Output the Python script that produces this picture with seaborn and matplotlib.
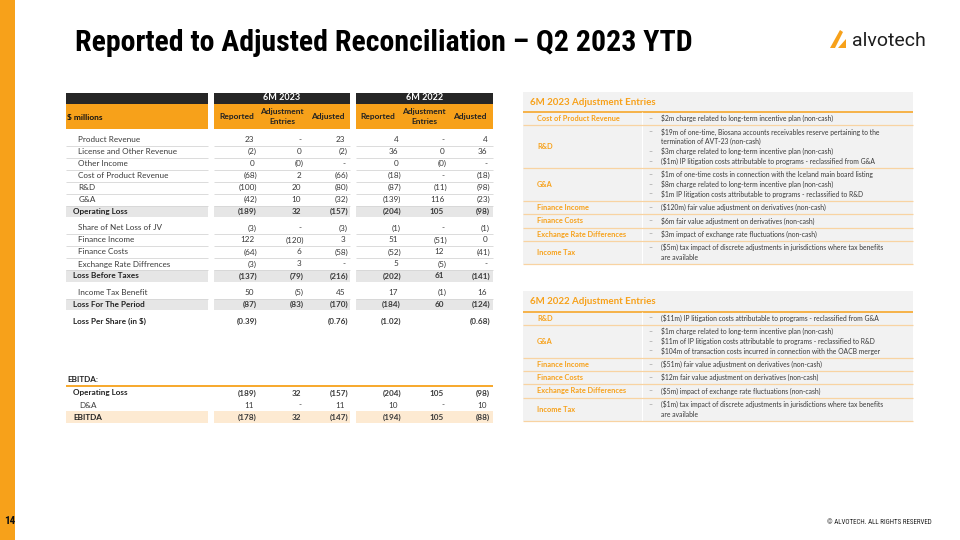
import matplotlib
matplotlib.use("Agg")
import matplotlib.pyplot as plt
from matplotlib import font_manager
import seaborn as sns

# ---- left table data ($ millions) ----
row_labels = ["Product Revenue", "License and Other Revenue", "Other Income",
              "Cost of Product Revenue", "R&D", "G&A", "Operating Loss",
              "Share of Net Loss of JV", "Finance Income", "Finance Costs",
              "Exchange Rate Diffrences", "Loss Before Taxes",
              "Income Tax Benefit", "Loss For The Period", "Loss Per Share (in $)"]
reported_23 = ["23", "(2)", "0", "(68)", "(100)", "(42)", "(189)",
               "(3)", "122", "(64)", "(3)", "(137)", "50", "(87)", "(0.39)"]
adjust_23 = ["-", "0", "(0)", "2", "20", "10", "32",
             "-", "(120)", "6", "3", "(79)", "(5)", "(83)", ""]
adjusted_23 = ["23", "(2)", "-", "(66)", "(80)", "(32)", "(157)",
               "(3)", "3", "(58)", "-", "(216)", "45", "(170)", "(0.76)"]
reported_22 = ["4", "36", "0", "(18)", "(87)", "(139)", "(204)",
               "(1)", "51", "(52)", "5", "(202)", "17", "(184)", "(1.02)"]
adjust_22 = ["-", "0", "(0)", "-", "(11)", "116", "105",
             "-", "(51)", "12", "(5)", "61", "(1)", "60", ""]
adjusted_22 = ["4", "36", "-", "(18)", "(98)", "(23)", "(98)",
               "(1)", "0", "(41)", "-", "(141)", "16", "(124)", "(0.68)"]
total_rows = ["Operating Loss", "Loss Before Taxes", "Loss For The Period"]

ebitda_labels = ["Operating Loss", "D&A", "EBITDA"]
ebitda_cols = [["(189)", "11", "(178)"], ["32", "-", "32"], ["(157)", "11", "(147)"],
               ["(204)", "10", "(194)"], ["105", "-", "105"], ["(98)", "10", "(88)"]]

col_heads = ["Reported", "Adjustment\nEntries", "Adjusted"]
period_heads = ["6M 2023", "6M 2022"]

# ---- right panels ----
entries_23_title = "6M 2023 Adjustment Entries"
entries_23_items = ["Cost of Product Revenue", "R&D", "G&A", "Finance Income",
                    "Finance Costs", "Exchange Rate Differences", "Income Tax"]
entries_23_notes = [
    ["$2m charge related to long-term incentive plan (non-cash)"],
    ["$19m of one-time, Biosana accounts receivables reserve pertaining to the\ntermination of AVT-23 (non-cash)",
     "$3m charge related to long-term incentive plan (non-cash)",
     "($1m) IP litigation costs attributable to programs - reclassified from G&A"],
    ["$1m of one-time costs in connection with the Iceland main board listing",
     "$8m charge related to long-term incentive plan (non-cash)",
     "$1m IP litigation costs attributable to programs - reclassified to R&D"],
    ["($120m) fair value adjustment on derivatives (non-cash)"],
    ["$6m fair value adjustment on derivatives (non-cash)"],
    ["$3m impact of exchange rate fluctuations (non-cash)"],
    ["($5m) tax impact of discrete adjustments in jurisdictions where tax benefits\nare available"],
]
entries_22_title = "6M 2022 Adjustment Entries"
entries_22_items = ["R&D", "G&A", "Finance Income", "Finance Costs",
                    "Exchange Rate Differences", "Income Tax"]
entries_22_notes = [
    ["($11m) IP litigation costs attributable to programs - reclassified from G&A"],
    ["$1m charge related to long-term incentive plan (non-cash)",
     "$11m of IP litigation costs attributable to programs - reclassified to R&D",
     "$104m of transaction costs incurred in connection with the OACB merger"],
    ["($51m) fair value adjustment on derivatives (non-cash)"],
    ["$12m fair value adjustment on derivatives (non-cash)"],
    ["($5m) impact of exchange rate fluctuations (non-cash)"],
    ["($1m) tax impact of discrete adjustments in jurisdictions where tax benefits\nare available"],
]

ORANGE = "#F7A11A"
DARK = "#262626"
GREY_BAND = "#E6E6E6"
PEACH = "#FDEAD2"
PANEL = "#F2F2F2"
TXT = "#3A3A3A"

sns.set_theme(style="white")
plt.rcParams["font.family"] = ["Lato", "DejaVu Sans"]

# pick a narrow face for the title if one is installed
installed = {f.name for f in font_manager.fontManager.ttflist}
narrow = next((n for n in ["Liberation Sans Narrow", "DejaVu Sans Condensed",
                           "Roboto Condensed", "Arial Narrow"] if n in installed), None)
if narrow:
    title_font, title_size = [narrow, "DejaVu Sans"], 21.5
else:
    title_font, title_size = ["Liberation Sans", "DejaVu Sans"], 18.3

fig = plt.figure(figsize=(9.6, 5.4), dpi=100)
ax = fig.add_axes([0, 0, 1, 1])
ax.set_xlim(0, 960)
ax.set_ylim(540, 0)
ax.axis("off")


def txt(x, y, s, **kw):
    kw.setdefault("va", "center")
    kw.setdefault("color", TXT)
    ax.text(x, y, s, parse_math=False, **kw)


# slide frame
ax.barh(270, 15, left=0, height=540, color=ORANGE, lw=0)
txt(4, 521, "14", fontsize=8, fontweight="bold", color="#111111", family=title_font)
txt(932, 522, "© ALVOTECH. ALL RIGHTS RESERVED", fontsize=5, ha="right",
    color="#222222", family=title_font)
txt(75, 43, "Reported to Adjusted Reconciliation – Q2 2023 YTD", fontsize=title_size,
    fontweight="bold", color="black", family=title_font)
ax.fill([830, 835, 843, 840], [48, 48, 32, 30], color=ORANGE, lw=0)
ax.fill([838, 846, 846], [48, 48, 39], color=ORANGE, lw=0)
txt(852, 41, "alvotech", fontsize=14, color="#1E1E1E", family=["Roboto", "DejaVu Sans"])

# ---- left table ----
blocks = [(66, 208), (214, 350), (356, 493)]
col_edge = [257, 304, 348, 401, 447, 490]
col_mid = [237, 282, 328, 378, 424, 470]
value_cols = [reported_23, adjust_23, adjusted_23, reported_22, adjust_22, adjusted_22]

for i, (x0, x1) in enumerate(blocks):
    ax.barh(98, x1 - x0, left=x0, height=11, color=DARK, lw=0)
    ax.barh(116.5, x1 - x0, left=x0, height=25, color=ORANGE, lw=0)
    if i > 0:
        txt((x0 + x1) / 2, 98, period_heads[i - 1], fontsize=6.5, fontweight="bold",
            color="white", ha="center")
txt(67, 117, "$ millions", fontsize=6, fontweight="bold", color="#111111")
for j, xm in enumerate(col_mid):
    txt(xm, 116.5, col_heads[j % 3], fontsize=6, fontweight="bold", color="#222222",
        ha="center", linespacing=1.35)


def put_value(k, y, s, bold):
    x = col_edge[k] if s.startswith("(") else col_edge[k] - 2.8
    txt(x, y, s, fontsize=5.9, ha="right", fontweight="bold" if bold else "normal")


y = 139.5
for r, lab in enumerate(row_labels):
    total = lab in total_rows
    eps = r == len(row_labels) - 1
    bold = total or eps
    if total:
        for x0, x1 in blocks:
            ax.barh(y, x1 - x0, left=x0, height=11.5, color=GREY_BAND, lw=0)
    elif not eps:
        for x0, x1 in blocks:
            ax.hlines(y + 6, x0, x1, color="#D6D6D6", lw=0.6)
    txt(73 if bold else 78.5, y, lab, fontsize=5.9,
        fontweight="bold" if bold else "normal", color="#222222" if bold else TXT)
    for k, col in enumerate(value_cols):
        if col[r]:
            put_value(k, y, col[r], bold)
    y += 12 + (4.5 if total else 0)

# EBITDA section
txt(67, 380, "EBITDA:", fontsize=5.9, fontweight="bold", color="#222222")
ax.hlines(385.5, 66, 493, color=ORANGE, lw=1.3)
for r, lab in enumerate(ebitda_labels):
    yy = 393 + 12 * r
    bold = r != 1
    if r == 2:
        for x0, x1 in blocks:
            ax.barh(yy, x1 - x0, left=x0, height=11.5, color=PEACH, lw=0)
    txt(73 if bold else 79, yy, lab, fontsize=5.9,
        fontweight="bold" if bold else "normal", color="#222222" if bold else TXT)
    for k, col in enumerate(ebitda_cols):
        put_value(k, yy, col[r], bold)


# ---- right panels ----
def panel(top, title, items, notes):
    x0, x1, xdiv = 523, 913, 642
    line_h = 9.8
    heights = [sum(b.count("\n") + 1 for b in n) * line_h + 3.5 for n in notes]
    bottom = top + 20.5 + sum(heights)
    ax.barh((top + bottom) / 2, x1 - x0, left=x0, height=bottom - top, color=PANEL, lw=0)
    txt(530, top + 11, title, fontsize=7, fontweight="bold", color=ORANGE)
    yy = top + 20.5
    ax.hlines(yy, x0, x1, color=ORANGE, lw=1.1)
    ax.vlines(xdiv, yy, bottom, color="white", lw=0.8)
    for item, note, h in zip(items, notes, heights):
        txt(537, yy + h / 2, item, fontsize=5.3, fontweight="bold", color=ORANGE)
        ly = yy + h / 2 - (h - 3.5 - line_h) / 2
        for b in note:
            txt(648, ly, "–", fontsize=5, color="#8C8C8C")
            for part in b.split("\n"):
                txt(661, ly, part, fontsize=4.9, color=TXT)
                ly += line_h
        yy += h
        ax.hlines(yy, x0, x1, color="#F8D3A2", lw=0.9)


panel(91.5, entries_23_title, entries_23_items, entries_23_notes)
panel(291, entries_22_title, entries_22_items, entries_22_notes)

fig.savefig("out.png", dpi=100, facecolor="white")
